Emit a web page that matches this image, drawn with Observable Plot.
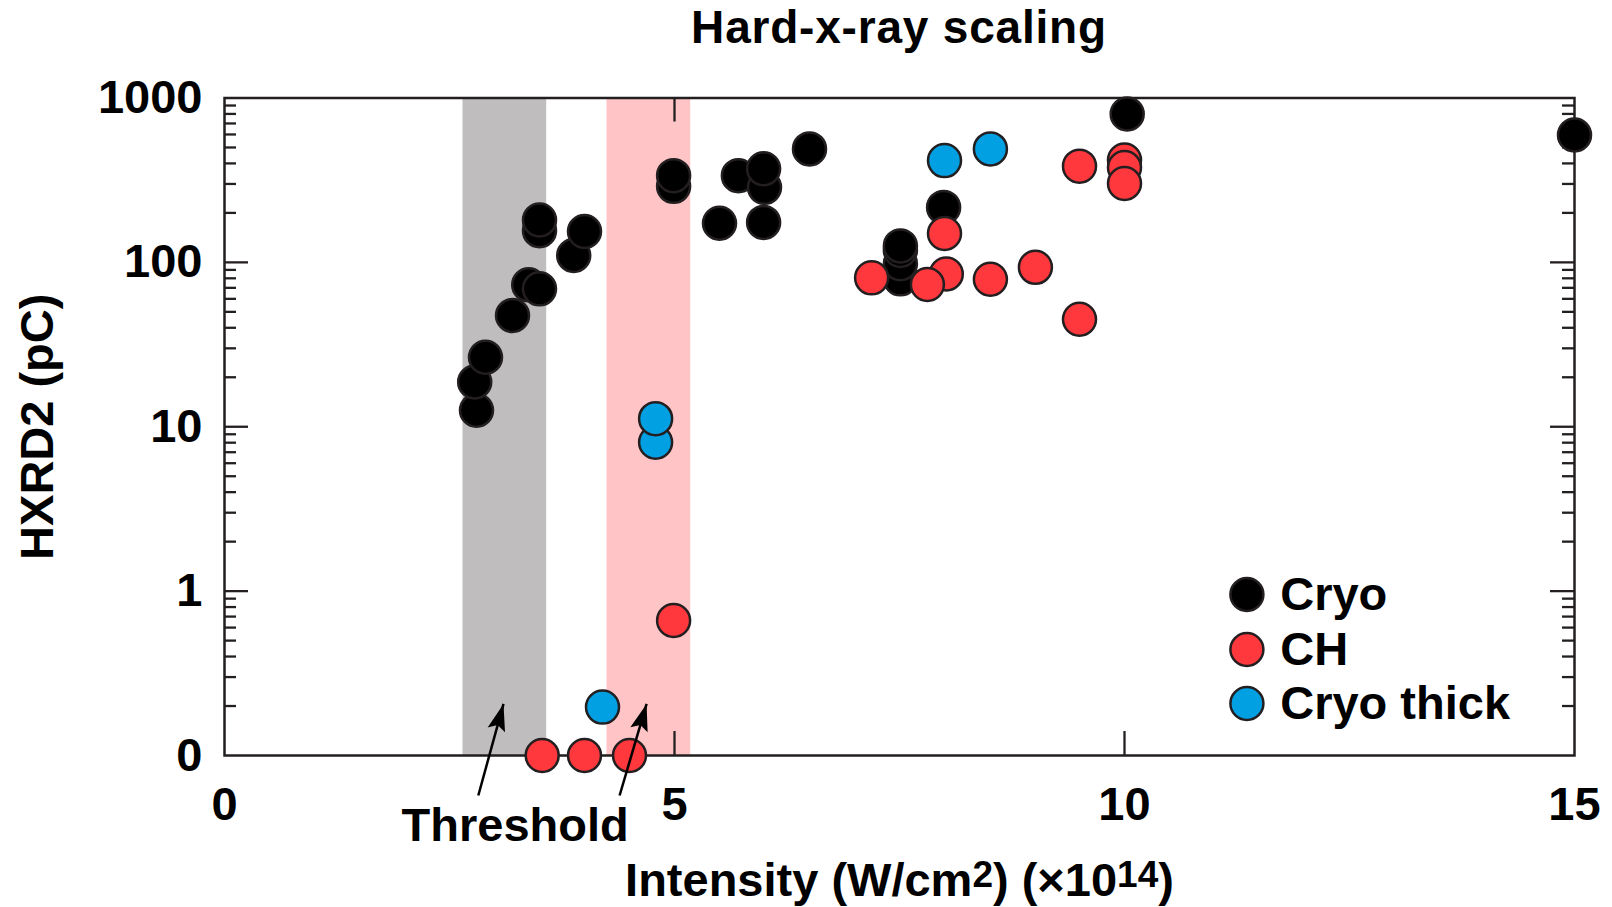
<!DOCTYPE html>
<html>
<head>
<meta charset="utf-8">
<script src="https://cdn.jsdelivr.net/npm/d3@7"></script>
<script src="https://cdn.jsdelivr.net/npm/@observablehq/plot@0.6"></script>
<style>
  html, body { margin: 0; padding: 0; background: #fff; overflow: hidden; }
  #title {
    margin-left: 224px; width: 1350px; height: 56px; line-height: 56px;
    font: bold 46px "Liberation Sans", Arial, Helvetica, sans-serif;
    letter-spacing: 0.8px; text-align: center; color: #000;
  }
</style>
</head>
<body>
<div id="title">Hard-x-ray scaling</div>
<div id="chart"></div>
<script>
// ---------------- data ----------------
const seriesNames = ["Cryo", "CH", "Cryo thick"];

const cryoX = [2.80, 2.78, 2.90, 3.20, 3.38, 3.50, 3.50, 3.50, 3.88, 4.00, 4.99, 4.99, 5.50, 5.71, 6.00, 5.99, 5.99, 6.50, 7.51, 7.51, 7.51, 7.51, 7.99, 10.03, 15.0];
const cryoY = [12.6, 18.7, 26.5, 47.5, 73, 69, 156, 181, 110, 154, 290, 337, 173, 337, 286, 175, 371, 490, 79.4, 98, 118, 126, 216, 800, 596];

const chX = [3.53, 4.00, 4.50, 4.99, 7.19, 8.02, 7.81, 8.00, 8.51, 9.01, 9.50, 9.50, 10.0, 10.0, 10.0];
const chY = [0.1, 0.1, 0.1, 0.662, 80.5, 85, 73.3, 150, 78.9, 93.3, 385, 45.1, 420, 378, 302];

const thickX = [4.20, 4.79, 4.79, 8.00, 8.51];
const thickY = [0.197, 8.05, 11.2, 416, 490];

const xTicks = [0, 5, 10, 15];
const yTicks = [0.1, 1, 10, 100, 1000];
const yTickLabels = ["0", "1", "10", "100", "1000"];

const thresholdBandsX1 = [2.65, 4.25];
const thresholdBandsX2 = [3.58, 5.18];

const yTitle = "HXRD2 (pC)";
const xTitleParts = [["Intensity (W/cm", false], ["2", true], [") (\u00d710", false], ["14", true], [")", false]];
const xTitle = xTitleParts.map(p => p[0]).join("");
const annotationText = "Threshold";

// ------------- annotation placement (data coordinates) -------------
const arrowStartX = [2.82, 4.39], arrowStartY = [0.0571, 0.0571];
const arrowEndX = [3.10, 4.69], arrowEndY = [0.206, 0.206];
const annotationPos = {x: 3.23, y: 0.0375};
const legendDotX = 11.36, legendTextX = 11.73;
const legendY = [0.953, 0.441, 0.207];

// ---------------- styling ----------------
const colors = {"Cryo": "#000000", "CH": "#fe383d", "Cryo thick": "#00a0e3"};
const lineColor = "#231f20";
const bandColors = ["#bfbdbe", "#fec4c6"];
const W = 1612, H = 851;
const mL = 224, mR = 38, mT = 41.5, mB = 152;
const innerW = W - mL - mR, innerH = H - mT - mB;
const majorLen = 24, minorLen = 12;
const R = 16.5;

const yMinor = [];
for (const dec of [0.1, 1, 10, 100]) for (let k = 2; k <= 9; k++) yMinor.push(+(dec * k).toPrecision(3));
const yMajorInner = yTicks.slice(1, -1);
const xMajorInner = xTicks.slice(1, -1);

const idx = a => d3.range(a.length);
const dotOpts = (xs, ys, name) => ({
  x: i => xs[i], y: i => ys[i], r: R,
  fill: colors[name], stroke: lineColor, strokeWidth: 2.5
});

// pixel-space helpers (same mapping as the plot's scales) for arrowhead orientation
const px = d3.scaleLinear([0, 15], [mL, W - mR]);
const py = d3.scaleLog([0.1, 1000], [H - mB, mT]);
const arrowAngle = i => Math.atan2(px(arrowEndX[i]) - px(arrowStartX[i]), py(arrowStartY[i]) - py(arrowEndY[i])) * 180 / Math.PI;
// filled, slightly notched arrowhead with its tip at the origin, pointing up
const arrowHead = {
  draw(context) {
    context.moveTo(0, 0);
    context.lineTo(-9, 27);
    context.lineTo(0, 22);
    context.lineTo(9, 27);
    context.closePath();
  }
};

const plot = Plot.plot({
  width: W, height: H,
  marginLeft: mL, marginRight: mR, marginTop: mT, marginBottom: mB,
  style: {
    fontFamily: "'Liberation Sans', Arial, Helvetica, sans-serif",
    fontSize: "47px", fontWeight: "bold", color: "#000", background: "#fff", overflow: "visible"
  },
  x: {domain: [0, 15]},
  y: {type: "log", domain: [0.1, 1000]},
  marks: [
    // threshold bands
    ...thresholdBandsX1.map((x1, i) =>
      Plot.rect([i], {x1: () => x1, x2: () => thresholdBandsX2[i], y1: () => 0.1, y2: () => 1000, fill: bandColors[i]})),
    // frame + inward ticks
    Plot.frame({stroke: lineColor, strokeWidth: 2.5}),
    Plot.ruleY(yMajorInner, {stroke: lineColor, strokeWidth: 2.3, insetRight: innerW - majorLen}),
    Plot.ruleY(yMinor, {stroke: lineColor, strokeWidth: 2.3, insetRight: innerW - minorLen}),
    Plot.ruleY(yMajorInner, {stroke: lineColor, strokeWidth: 2.3, insetLeft: innerW - majorLen}),
    Plot.ruleY(yMinor, {stroke: lineColor, strokeWidth: 2.3, insetLeft: innerW - minorLen}),
    Plot.ruleX(xMajorInner, {stroke: lineColor, strokeWidth: 2.3, insetTop: innerH - majorLen}),
    Plot.ruleX(xMajorInner, {stroke: lineColor, strokeWidth: 2.3, insetBottom: innerH - majorLen}),
    // tick labels
    Plot.axisY({anchor: "left", ticks: yTicks, tickSize: 0, tickPadding: 22, label: null,
      tickFormat: d => yTickLabels[yTicks.indexOf(d)]}),
    Plot.axisX({anchor: "bottom", ticks: xTicks, tickSize: 0, tickPadding: 31, label: null,
      tickFormat: d => String(d)}),
    // data
    Plot.dot(idx(cryoX), dotOpts(cryoX, cryoY, "Cryo")),
    Plot.dot(idx(chX), dotOpts(chX, chY, "CH")),
    Plot.dot(idx(thickX), dotOpts(thickX, thickY, "Cryo thick")),
    // legend
    Plot.dot(seriesNames, {x: () => legendDotX, y: (d, i) => legendY[i], r: R,
      fill: d => colors[d], stroke: lineColor, strokeWidth: 2.5}),
    Plot.text(seriesNames, {x: () => legendTextX, y: (d, i) => legendY[i], text: d => d,
      textAnchor: "start", lineAnchor: "middle"}),
    // threshold annotation: shafts + filled heads
    Plot.link(idx(arrowStartX), {x1: i => arrowStartX[i], y1: i => arrowStartY[i],
      x2: i => arrowEndX[i], y2: i => arrowEndY[i], stroke: "#000", strokeWidth: 2.5}),
    Plot.dot(idx(arrowEndX), {x: i => arrowEndX[i], y: i => arrowEndY[i], symbol: arrowHead,
      rotate: i => arrowAngle(i), fill: "#000", stroke: "none", r: 10}),
    Plot.text([annotationText], {x: () => annotationPos.x, y: () => annotationPos.y, text: d => d,
      lineAnchor: "middle"}),
    // axis titles
    Plot.text([yTitle], {frameAnchor: "left", dx: -187, rotate: -90, text: d => d,
      textAnchor: "middle", lineAnchor: "middle"}),
    Plot.text([xTitle], {frameAnchor: "bottom", dy: 125, text: d => d,
      textAnchor: "middle", lineAnchor: "middle"})
  ]
});

document.getElementById("chart").append(plot);

// real superscripts in the x-axis title
d3.select(plot).selectAll("text").filter(function () { return this.textContent === xTitle; })
  .each(function () {
    const t = d3.select(this);
    t.text(null);
    let prevSup = false;
    for (const [s, sup] of xTitleParts) {
      const ts = t.append("tspan").text(s);
      if (sup) { ts.attr("font-size", "37px").attr("dy", "-9"); }
      else if (prevSup) { ts.attr("dy", "9"); }
      prevSup = sup;
    }
  });
</script>
</body>
</html>
